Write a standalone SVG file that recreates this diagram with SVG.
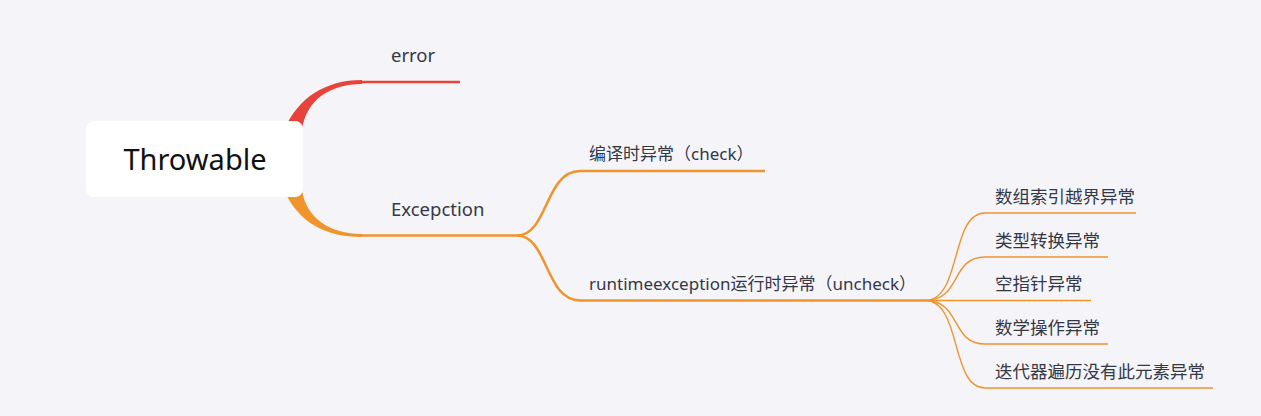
<svg xmlns="http://www.w3.org/2000/svg" width="1261" height="416" viewBox="0 0 1261 416">
<style>
.lbl{font-family:"Noto Sans","Noto Sans CJK SC",sans-serif;fill:#353845;}
.l1{font-size:18.5px;}
.l2{font-size:17px;}
.l3{font-size:17.5px;}
.red{stroke:#e8433a;fill:none;}
.org{stroke:#f0942c;fill:none;}
.w2{stroke-width:2.5;}
.w3{stroke-width:1.4;}
</style>
<rect x="0" y="0" width="1261" height="416" fill="#f4f4f9"/>
<g id="connectors">
  <path d="M284,130 C298,98 325,80 362,80 L362,84 C330,84 306,100 302,130 Z" fill="#e8433a"/>
  <path class="red w2" d="M360,82 L460,82"/>
  <path d="M284,190 C298,222 325,237 362,237 L362,234 C330,234 306,218 302,190 Z" fill="#f0942c"/>
  <path class="org w2" d="M358,235.5 L520,235.5"/>
  <path class="org w2" d="M517,235.5 C548,235.5 545,171 580,171 L765,171"/>
  <path class="org w2" d="M517,235.5 C548,235.5 545,300.5 580,300.5 L925,300.5"/>
  <path class="org w3" d="M925,300.5 C962,300.5 950,213 985,213 L1136,213"/>
  <path class="org w3" d="M925,300.5 C962,300.5 950,257 985,257 L1108,257"/>
  <path class="org w3" d="M925,300.5 L1091,300.5"/>
  <path class="org w3" d="M925,300.5 C962,300.5 950,344 985,344 L1108,344"/>
  <path class="org w3" d="M925,300.5 C962,300.5 950,388 985,388 L1213,388"/>
</g>
<g id="root">
  <rect x="86" y="121" width="217" height="76" rx="8" fill="#ffffff"/>
  <text x="195" y="169.5" text-anchor="middle" font-family="'Noto Sans',sans-serif" font-size="29" fill="#111111">Throwable</text>
</g>
<g id="error"><text class="lbl l1" x="391" y="62">error</text></g>
<g id="excepction"><text class="lbl l1" x="391" y="216">Excepction</text></g>
<g id="check"><text class="lbl l2" x="589" y="160">编译时异常（check）</text></g>
<g id="uncheck"><text class="lbl l2" x="589" y="290">runtimeexception运行时异常（uncheck）</text></g>
<g id="c1"><text class="lbl l3" x="995" y="203">数组索引越界异常</text></g>
<g id="c2"><text class="lbl l3" x="995" y="247">类型转换异常</text></g>
<g id="c3"><text class="lbl l3" x="995" y="290">空指针异常</text></g>
<g id="c4"><text class="lbl l3" x="995" y="334">数学操作异常</text></g>
<g id="c5"><text class="lbl l3" x="995" y="378">迭代器遍历没有此元素异常</text></g>
</svg>
